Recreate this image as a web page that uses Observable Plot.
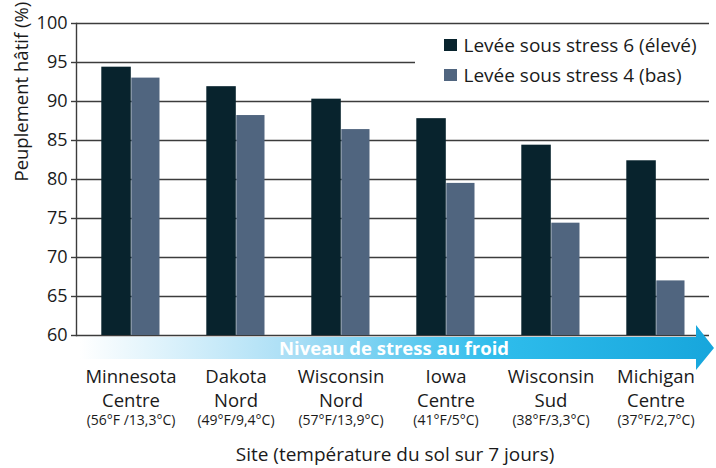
<!DOCTYPE html>
<html>
<head>
<meta charset="utf-8">
<script src="https://cdn.jsdelivr.net/npm/d3@7"></script>
<script src="https://cdn.jsdelivr.net/npm/@observablehq/plot@0.6"></script>
<style>
  html, body { margin: 0; padding: 0; background: #fff; }
  #wrap { position: relative; width: 716px; height: 468px; font-family: "Open Sans", sans-serif; }
  #legend { position: absolute; left: 415px; top: 30px; width: 297px; height: 64px; background: #fff; font-size: 19px; color: #1a1a1a; }
  .li { position: absolute; left: 29px; display: flex; align-items: center; white-space: nowrap; }
  .sw { width: 12.5px; height: 12.5px; margin-right: 7px; }
</style>
</head>
<body>
<div id="wrap"></div>
<script>
const sites = ["Minnesota Centre", "Dakota Nord", "Wisconsin Nord", "Iowa Centre", "Wisconsin Sud", "Michigan Centre"];
const siteLine1 = ["Minnesota", "Dakota", "Wisconsin", "Iowa", "Wisconsin", "Michigan"];
const siteLine2 = ["Centre", "Nord", "Nord", "Centre", "Sud", "Centre"];
const siteTemps = ["(56°F /13,3°C)", "(49°F/9,4°C)", "(57°F/13,9°C)", "(41°F/5°C)", "(38°F/3,3°C)", "(37°F/2,7°C)"];
const stress6 = [94.4, 91.9, 90.3, 87.8, 84.4, 82.4];
const stress4 = [93.0, 88.2, 86.4, 79.5, 74.4, 67.0];
const seriesNames = ["Levée sous stress 6 (élevé)", "Levée sous stress 4 (bas)"];
const yTicks = [60, 65, 70, 75, 80, 85, 90, 95, 100];
const yLabel = "Peuplement hâtif (%)";
const xLabel = "Site (température du sol sur 7 jours)";
const arrowLabel = "Niveau de stress au froid";

const colors = ["#08232d", "#50657f"];
const data = sites.map((s, i) => ({site: s, high: stress6[i], low: stress4[i]}));
const idx = Object.fromEntries(sites.map((s, i) => [s, i]));

function arrowMark(index, scales, values, dims) {
  const g = d3.create("svg:g");
  const defs = g.append("defs");
  const grad = defs.append("linearGradient").attr("id", "arrowGrad").attr("x1", "0").attr("x2", "1");
  grad.append("stop").attr("offset", "0").attr("stop-color", "#ffffff");
  grad.append("stop").attr("offset", "0.35").attr("stop-color", "#a6ddf5");
  grad.append("stop").attr("offset", "0.65").attr("stop-color", "#2fbdec");
  grad.append("stop").attr("offset", "1").attr("stop-color", "#17a6dc");
  const x0 = dims.marginLeft + 4, x1 = dims.width - 2;
  const yb = dims.height - dims.marginBottom;
  const top = yb + 2, bot = yb + 24, hTop = yb - 10, hBot = yb + 35, hx = x1 - 18;
  g.append("path")
    .attr("d", `M${x0},${top}L${hx},${top}L${hx},${hTop}L${x1},${(top+bot)/2}L${hx},${hBot}L${hx},${bot}L${x0},${bot}Z`)
    .attr("fill", "url(#arrowGrad)");
  g.append("text")
    .attr("x", 394).attr("y", (top + bot) / 2)
    .attr("dy", "0.36em")
    .attr("text-anchor", "middle")
    .attr("fill", "#fff")
    .attr("font-weight", "bold")
    .attr("font-size", 18.5)
    .text(arrowLabel);
  return g.node();
}

const chart = Plot.plot({
  width: 716,
  height: 468,
  marginLeft: 76,
  marginRight: 7,
  marginTop: 23,
  marginBottom: 133,
  style: {fontFamily: "'Open Sans', sans-serif", color: "#1a1a1a", background: "#fff"},
  x: {domain: sites, padding: 0, axis: null},
  y: {domain: [60, 100], axis: null},
  marks: [
    Plot.ruleY(yTicks, {stroke: "#3c3c3c", strokeWidth: 1.4}),
    Plot.barY(data, {x: "site", y1: 60, y2: "high", fill: colors[0], insetLeft: 23.3, insetRight: 52.2}),
    Plot.barY(data, {x: "site", y1: 60, y2: "low", fill: colors[1], insetLeft: 53.3, insetRight: 23.5}),
    Plot.axisY({ticks: yTicks, tickSize: 5, tickPadding: 4, fontSize: 18, stroke: "#3c3c3c", strokeWidth: 1.4}),
    Plot.frame({anchor: "left", stroke: "#3c3c3c", strokeWidth: 1.4}),
    arrowMark,
    Plot.axisX({tickSize: 0, tickPadding: 0, dy: 34, fontSize: 18.5,
      tickFormat: d => siteLine1[idx[d]], label: null}),
    Plot.axisX({tickSize: 0, tickPadding: 0, dy: 58, fontSize: 18.5,
      tickFormat: d => siteLine2[idx[d]], label: null}),
    Plot.axisX({tickSize: 0, tickPadding: 0, dy: 80, fontSize: 14,
      tickFormat: d => siteTemps[idx[d]], label: null}),
    Plot.text([xLabel], {frameAnchor: "bottom", dy: 125, dx: 2, fontSize: 19}),
    Plot.text([yLabel], {frameAnchor: "left", rotate: -90, dx: -54, dy: 2, fontSize: 18.5})
  ]
});

const wrap = document.getElementById("wrap");
wrap.appendChild(chart);
const legend = document.createElement("div");
legend.id = "legend";
seriesNames.forEach((name, i) => {
  const row = document.createElement("div");
  row.className = "li";
  row.style.top = (2 + i * 30) + "px";
  const sw = document.createElement("div");
  sw.className = "sw";
  sw.style.background = colors[i];
  const t = document.createElement("span");
  t.textContent = name;
  row.appendChild(sw); row.appendChild(t);
  legend.appendChild(row);
});
wrap.appendChild(legend);
</script>
</body>
</html>
